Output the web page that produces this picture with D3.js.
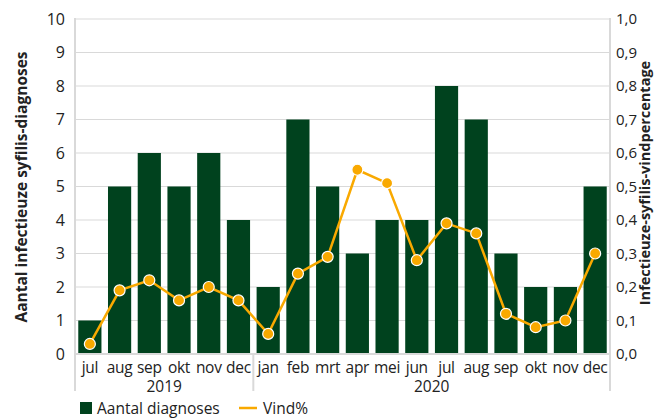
<!DOCTYPE html>
<html>
<head>
<meta charset="utf-8">
<script src="https://cdn.jsdelivr.net/npm/d3@7"></script>
<style>
  body { margin: 0; background: #fff; }
  svg text { font-family: "Open Sans", "Noto Sans", sans-serif; fill: #222; }
</style>
</head>
<body>
<div id="container"></div>
<script>
// data
const months = ["jul","aug","sep","okt","nov","dec","jan","feb","mrt","apr","mei","jun","jul","aug","sep","okt","nov","dec"];
const years = ["2019", "2020"];
const yearOf = [0,0,0,0,0,0,1,1,1,1,1,1,1,1,1,1,1,1];
const diagnoses = [1,5,6,5,6,4,2,7,5,3,4,4,8,7,3,2,2,5];
const vind = [0.03,0.19,0.22,0.16,0.20,0.16,0.06,0.24,0.29,0.55,0.51,0.28,0.39,0.36,0.12,0.08,0.10,0.30];
const leftTicks = [0,1,2,3,4,5,6,7,8,9,10];
const rightTicks = [0,0.1,0.2,0.3,0.4,0.5,0.6,0.7,0.8,0.9,1.0];

const width = 654, height = 419;
const plotL = 75, plotR = 610, plotT = 19, plotB = 354;
const green = "#00421e", orange = "#f9a900", grid = "#d9d9d9";

const svg = d3.select("#container").append("svg")
    .attr("width", width).attr("height", height);

const x = d3.scaleBand().domain(d3.range(months.length)).range([plotL, plotR]).paddingInner(0.22).paddingOuter(0.11);
const y = d3.scaleLinear().domain([0, 10]).range([plotB, plotT]);
const y2 = d3.scaleLinear().domain([0, 1]).range([plotB, plotT]);

//----------------------------GRID-----------------------------//
svg.append("g").selectAll("line").data(leftTicks.slice(1)).enter().append("line")
    .attr("x1", plotL).attr("x2", plotR)
    .attr("y1", d => y(d)).attr("y2", d => y(d))
    .attr("stroke", grid).attr("stroke-width", 1);

//----------------------------BARS-----------------------------//
svg.append("g").selectAll("rect").data(diagnoses).enter().append("rect")
    .attr("x", (d, i) => x(i))
    .attr("width", x.bandwidth())
    .attr("y", d => y(d))
    .attr("height", d => y(0) - y(d))
    .attr("fill", green);

//----------------------------AXES-----------------------------//
const yAxisL = d3.axisLeft(y).tickValues(leftTicks).tickSize(0).tickPadding(10);
const gl = svg.append("g").attr("transform", "translate(" + plotL + ",0)").call(yAxisL);
gl.selectAll("text").style("font-size", "16px");

const yAxisR = d3.axisRight(y2).tickValues(rightTicks).tickSize(0).tickPadding(6)
    .tickFormat(d => d3.format(".1f")(d).replace(".", ","));
const gr = svg.append("g").attr("transform", "translate(" + plotR + ",0)").call(yAxisR);
gr.selectAll("text").style("font-size", "15px");

svg.selectAll(".domain").remove();
svg.selectAll(".tick line").remove();

// axis frame lines
const frame = svg.append("g").attr("stroke", grid).attr("stroke-width", 2);
frame.append("line").attr("x1", plotL).attr("x2", plotL).attr("y1", plotT - 1).attr("y2", 391);
frame.append("line").attr("x1", plotR).attr("x2", plotR).attr("y1", plotT - 1).attr("y2", 391);
frame.append("line").attr("x1", plotL).attr("x2", plotR).attr("y1", plotB).attr("y2", plotB);
const sep = (x(5) + x.bandwidth() + x(6)) / 2;
frame.append("line").attr("x1", sep).attr("x2", sep).attr("y1", plotB).attr("y2", 391);

// month labels
svg.append("g").selectAll("text").data(months).enter().append("text")
    .attr("x", (d, i) => x(i) + x.bandwidth() / 2)
    .attr("y", 373)
    .attr("text-anchor", "middle")
    .style("font-size", "15.5px")
    .style("letter-spacing", "-0.3px")
    .text(d => d);

// year labels
svg.append("g").selectAll("text").data(years).enter().append("text")
    .attr("x", (d, yi) => {
        const idx = d3.range(months.length).filter(i => yearOf[i] === yi);
        return (x(idx[0]) + x(idx[idx.length - 1]) + x.bandwidth()) / 2;
    })
    .attr("y", 392)
    .attr("text-anchor", "middle")
    .style("font-size", "15.5px")
    .text(d => d);

// axis titles
svg.append("text")
    .attr("transform", "translate(27,187) rotate(-90)")
    .attr("text-anchor", "middle")
    .style("font-size", "15.5px").style("font-weight", "bold")
    .text("Aantal infectieuze syfilis-diagnoses");

svg.append("text")
    .attr("transform", "translate(650,183) rotate(-90)")
    .attr("text-anchor", "middle")
    .style("font-size", "14.5px").style("font-weight", "bold")
    .text("Infectieuze-syfilis-vindpercentage");

//----------------------------LINE-----------------------------//
const line = d3.line()
    .x((d, i) => x(i) + x.bandwidth() / 2)
    .y(d => y2(d));

svg.append("path")
    .datum(vind)
    .attr("d", line)
    .attr("fill", "none")
    .attr("stroke", orange)
    .attr("stroke-width", 2.5);

svg.append("g").selectAll("circle").data(vind).enter().append("circle")
    .attr("cx", (d, i) => x(i) + x.bandwidth() / 2)
    .attr("cy", d => y2(d))
    .attr("r", 5.5)
    .attr("fill", orange)
    .attr("stroke", "#fff")
    .attr("stroke-width", 1.2);

//----------------------------LEGEND---------------------------//
const lg = svg.append("g").attr("transform", "translate(80,412)");
lg.append("rect").attr("x", 0).attr("y", -10).attr("width", 12).attr("height", 12).attr("fill", green);
lg.append("text").attr("x", 17).attr("y", 2).style("font-size", "15.5px").text("Aantal diagnoses");
lg.append("line").attr("x1", 159).attr("x2", 177).attr("y1", -4).attr("y2", -4)
    .attr("stroke", orange).attr("stroke-width", 2.5);
lg.append("text").attr("x", 183).attr("y", 2).style("font-size", "15.5px").text("Vind%");
</script>
</body>
</html>
